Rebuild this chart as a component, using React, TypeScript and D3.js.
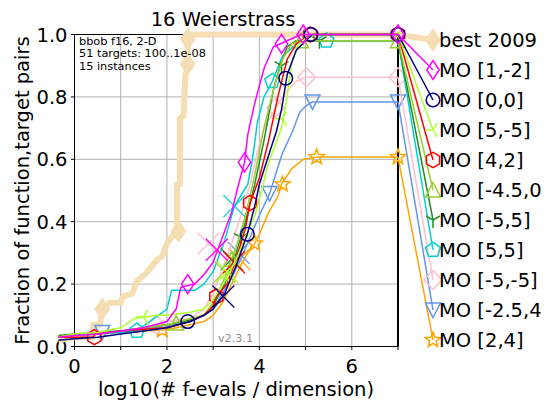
import React from "react";
import * as d3 from "d3";

type Pt = [number, number];

const WIDTH = 550;
const HEIGHT = 409;

// axis ticks
const xTickValues = [0, 1, 2, 3, 4, 5, 6, 7];
const xLabelValues = [0, 2, 4, 6];
const yTickValues = [0, 0.2, 0.4, 0.6, 0.8, 1.0];
const yTickLabels = ["0.0", "0.2", "0.4", "0.6", "0.8", "1.0"];

// algorithms (names truncated to 10 characters as in the legend)
const algNames = [
  "best 2009",
  "MO [1,-2]",
  "MO [0,0]",
  "MO [5,-5]",
  "MO [4,2]",
  "MO [-4.5,0",
  "MO [-5,5]",
  "MO [5,5]",
  "MO [-5,-5]",
  "MO [-2.5,4",
  "MO [2,4]",
];
const algColors = [
  "#f5deb3",
  "#ff00ff",
  "#000080",
  "#adff2f",
  "#ff0000",
  "#9acd32",
  "#228b22",
  "#00ced1",
  "#ffc0cb",
  "#6495ed",
  "#ffa500",
];
const algMarkers = [
  "bestDiamond",
  "thinDiamond",
  "circle",
  "triLeft",
  "hexagon",
  "triUp",
  "triDown1",
  "pentagon",
  "diamond",
  "triDown",
  "star",
];

// ECDF curves: [log10(evals/dim), fraction of (function,target) pairs]
const best2009: Pt[] = [
  [-0.35, 0.02], [0.0, 0.03], [0.4, 0.03], [0.4, 0.07], [0.55, 0.07], [0.6, 0.12],
  [0.75, 0.14], [1.0, 0.14], [1.05, 0.16], [1.25, 0.17], [1.35, 0.21], [1.55, 0.235],
  [1.8, 0.28], [1.9, 0.29], [2.0, 0.33], [2.2, 0.37], [2.22, 0.37], [2.22, 0.52],
  [2.28, 0.52], [2.28, 0.73], [2.36, 0.74], [2.4, 0.87], [2.45, 0.9], [2.45, 0.985],
  [2.45, 1.0], [7.0, 1.0],
];
const mo1m2: Pt[] = [
  [-0.35, 0.03], [0, 0.035], [0.5, 0.04], [1, 0.05], [1.5, 0.06], [2, 0.08], [2.2, 0.12],
  [2.3, 0.19], [2.6, 0.2], [2.8, 0.23], [3.0, 0.27], [3.1, 0.31], [3.25, 0.37], [3.4, 0.43],
  [3.55, 0.52], [3.68, 0.59], [3.75, 0.68], [3.9, 0.78], [4.1, 0.89], [4.3, 0.96],
  [4.6, 0.98], [4.9, 1.0], [7, 1.0],
];
const mo00: Pt[] = [
  [-0.35, 0.02], [0, 0.025], [0.5, 0.03], [1, 0.04], [1.5, 0.05], [2, 0.06], [2.5, 0.08],
  [2.8, 0.1], [3.0, 0.12], [3.25, 0.17], [3.5, 0.26], [3.74, 0.36], [3.9, 0.45], [4.0, 0.52],
  [4.26, 0.64], [4.37, 0.69], [4.48, 0.76], [4.6, 0.87], [4.8, 0.95], [5.0, 0.98],
  [5.15, 1.0], [7, 1.0],
];
const mo5m5: Pt[] = [
  [-0.35, 0.03], [0, 0.04], [0.5, 0.045], [1, 0.06], [1.3, 0.09], [1.8, 0.1], [2, 0.1],
  [2.5, 0.11], [2.8, 0.12], [3.0, 0.15], [3.3, 0.22], [3.5, 0.28], [3.7, 0.35], [3.9, 0.42],
  [4.05, 0.5], [4.2, 0.59], [4.48, 0.7], [4.6, 0.8], [4.7, 0.91], [4.85, 0.97], [5.1, 1.0],
  [7, 1.0],
];
const mo42: Pt[] = [
  [-0.35, 0.03], [0, 0.03], [0.4, 0.03], [0.45, 0.04], [1, 0.05], [1.5, 0.055], [2, 0.06],
  [2.5, 0.08], [2.8, 0.1], [3.0, 0.13], [3.07, 0.16], [3.3, 0.2], [3.5, 0.28], [3.7, 0.38],
  [3.8, 0.46], [4.0, 0.54], [4.2, 0.66], [4.4, 0.8], [4.6, 0.92], [4.8, 0.97], [5.1, 1.0],
  [7, 1.0],
];
const mom450: Pt[] = [
  [-0.35, 0.03], [0, 0.04], [0.5, 0.045], [1, 0.05], [1.5, 0.06], [2, 0.07], [2.5, 0.09],
  [2.8, 0.1], [3.0, 0.14], [3.25, 0.22], [3.5, 0.32], [3.7, 0.42], [3.9, 0.55], [4.1, 0.7],
  [4.3, 0.82], [4.5, 0.92], [4.7, 0.97], [4.9, 0.98], [7, 0.98],
];
const mom55: Pt[] = [
  [-0.35, 0.035], [0, 0.04], [0.5, 0.045], [1, 0.05], [1.5, 0.06], [2, 0.07], [2.5, 0.085],
  [2.8, 0.1], [3.0, 0.13], [3.25, 0.2], [3.5, 0.3], [3.7, 0.4], [3.9, 0.52], [4.1, 0.66],
  [4.3, 0.82], [4.45, 0.9], [4.6, 0.96], [4.8, 0.98], [7, 0.98],
];
const mo55: Pt[] = [
  [-0.35, 0.03], [0, 0.035], [0.5, 0.04], [1, 0.045], [1.35, 0.05], [2, 0.12], [2.1, 0.18],
  [2.6, 0.18], [2.8, 0.2], [3.0, 0.24], [3.25, 0.34], [3.46, 0.45], [3.75, 0.52],
  [3.85, 0.6], [3.96, 0.72], [4.1, 0.8], [4.28, 0.85], [4.5, 0.93], [4.8, 0.97],
  [5.0, 0.98], [7, 0.98],
];
const mom5m5: Pt[] = [
  [-0.35, 0.03], [0, 0.035], [0.5, 0.04], [1, 0.045], [1.5, 0.06], [1.77, 0.07], [2, 0.08],
  [2.5, 0.09], [2.8, 0.12], [3.0, 0.17], [3.2, 0.25], [3.4, 0.33], [3.6, 0.42], [3.8, 0.52],
  [3.95, 0.62], [4.1, 0.7], [4.35, 0.765], [4.6, 0.82], [4.8, 0.85], [5.0, 0.863],
  [7, 0.863],
];
const mom254: Pt[] = [
  [-0.35, 0.03], [0, 0.035], [0.5, 0.04], [0.7, 0.05], [1, 0.05], [1.5, 0.055], [2, 0.065],
  [2.5, 0.08], [2.8, 0.1], [3.0, 0.12], [3.2, 0.17], [3.4, 0.22], [3.6, 0.28], [3.8, 0.35],
  [4.0, 0.42], [4.22, 0.49], [4.5, 0.62], [4.72, 0.69], [4.87, 0.75], [5.0, 0.77],
  [5.15, 0.784], [7, 0.784],
];
const mo24: Pt[] = [
  [-0.35, 0.03], [0, 0.035], [0.5, 0.04], [1, 0.045], [1.5, 0.05], [1.9, 0.053], [2.2, 0.06],
  [2.5, 0.07], [2.8, 0.08], [3.0, 0.1], [3.2, 0.14], [3.4, 0.2], [3.6, 0.26], [3.75, 0.3],
  [3.9, 0.33], [4.0, 0.36], [4.2, 0.43], [4.4, 0.48], [4.48, 0.52], [4.7, 0.57],
  [4.95, 0.6], [5.24, 0.607], [7, 0.607],
];

// marker positions along each curve
const best2009Marks: Pt[] = [[0.6, 0.12], [2.25, 0.37], [2.45, 0.905], [2.45, 0.985]];
const mo1m2Marks: Pt[] = [[2.45, 0.2], [3.68, 0.59], [4.48, 0.97], [4.95, 1.0], [7, 1.0]];
const mo00Marks: Pt[] = [[2.45, 0.08], [3.74, 0.36], [4.57, 0.86], [5.12, 1.0], [7, 1.0]];
const mo5m5Marks: Pt[] = [[1.5, 0.095], [3.3, 0.22], [4.5, 0.73], [7, 1.0]];
const mo42Marks: Pt[] = [[0.43, 0.03], [3.07, 0.16], [3.8, 0.46], [5.1, 1.0], [7, 1.0]];
const mom450Marks: Pt[] = [[2.2, 0.075], [3.4, 0.28], [4.9, 0.98], [7, 0.98]];
const mom55Marks: Pt[] = [[3.6, 0.35], [4.48, 0.9], [5.3, 0.98], [7, 0.98]];
const mo55Marks: Pt[] = [[1.35, 0.05], [4.28, 0.85], [5.45, 0.98]];
const mom5m5Marks: Pt[] = [[1.77, 0.07], [4.35, 0.765], [5.02, 0.863], [7, 0.863]];
const mom254Marks: Pt[] = [[0.6, 0.045], [4.22, 0.49], [5.15, 0.784], [7, 0.784]];
const mo24Marks: Pt[] = [[1.9, 0.053], [3.9, 0.33], [4.5, 0.52], [5.24, 0.607], [7, 0.607]];

// median budget crosses
const crossLog = [null, 3.08, 3.22, 3.3, 3.45, 3.25, 3.4, 3.46, 2.9, 3.55, 3.57];
const crossFrac = [null, 0.31, 0.16, 0.24, 0.27, 0.24, 0.28, 0.45, 0.33, 0.3, 0.28];

const curves = [best2009, mo1m2, mo00, mo5m5, mo42, mom450, mom55, mo55, mom5m5, mom254, mo24];
const curveMarks = [
  best2009Marks, mo1m2Marks, mo00Marks, mo5m5Marks, mo42Marks, mom450Marks,
  mom55Marks, mo55Marks, mom5m5Marks, mom254Marks, mo24Marks,
];

const infoLines = ["bbob f16, 2-D", "51 targets: 100..1e-08", "15 instances"];

const FONT = "DejaVu Sans, sans-serif";

function regular(n: number, r: number, cx: number, cy: number, inner?: number) {
  const pts: string[] = [];
  const count = inner ? n * 2 : n;
  for (let i = 0; i < count; i++) {
    const a = -Math.PI / 2 + (i * 2 * Math.PI) / count;
    const rr = inner && i % 2 === 1 ? inner : r;
    pts.push(`${cx + rr * Math.cos(a)},${cy + rr * Math.sin(a)}`);
  }
  return pts.join(" ");
}

function Marker({ kind, cx, cy, color }: { kind: string; cx: number; cy: number; color: string }) {
  const sw = 1.5;
  const common = { fill: "none", stroke: color, strokeWidth: sw };
  switch (kind) {
    case "bestDiamond":
      return <polygon points={`${cx},${cy - 11} ${cx + 7.5},${cy} ${cx},${cy + 11} ${cx - 7.5},${cy}`} fill={color} stroke={color} strokeWidth={1} />;
    case "thinDiamond":
      return <polygon points={`${cx},${cy - 9.5} ${cx + 6.2},${cy} ${cx},${cy + 9.5} ${cx - 6.2},${cy}`} {...common} />;
    case "diamond":
      return <polygon points={`${cx},${cy - 9.5} ${cx + 9},${cy} ${cx},${cy + 9.5} ${cx - 9},${cy}`} {...common} />;
    case "circle":
      return <circle cx={cx} cy={cy} r={6.8} {...common} />;
    case "hexagon":
      return <polygon points={regular(6, 7.6, cx, cy)} {...common} />;
    case "pentagon":
      return <polygon points={regular(5, 7.8, cx, cy)} {...common} />;
    case "star":
      return <polygon points={regular(5, 8, cx, cy, 3.4)} {...common} />;
    case "triUp":
      return <polygon points={`${cx},${cy - 7.5} ${cx + 7.5},${cy + 7} ${cx - 7.5},${cy + 7}`} {...common} />;
    case "triDown":
      return <polygon points={`${cx},${cy + 7.5} ${cx + 7.5},${cy - 7} ${cx - 7.5},${cy - 7}`} {...common} />;
    case "triDown1": {
      const r = 8;
      return (
        <g stroke={color} strokeWidth={sw}>
          <line x1={cx} y1={cy} x2={cx} y2={cy + r} />
          <line x1={cx} y1={cy} x2={cx - 0.87 * r} y2={cy - 0.5 * r} />
          <line x1={cx} y1={cy} x2={cx + 0.87 * r} y2={cy - 0.5 * r} />
        </g>
      );
    }
    case "triLeft": {
      const r = 8;
      return (
        <g stroke={color} strokeWidth={sw}>
          <line x1={cx} y1={cy} x2={cx - r} y2={cy} />
          <line x1={cx} y1={cy} x2={cx + 0.5 * r} y2={cy - 0.87 * r} />
          <line x1={cx} y1={cy} x2={cx + 0.5 * r} y2={cy + 0.87 * r} />
        </g>
      );
    }
    default:
      return null;
  }
}

export default function App() {
  const x = d3.scaleLinear().domain([0, 7]).range([74.5, 398]);
  const y = d3.scaleLinear().domain([0, 1]).range([346.5, 34.5]);
  const line = d3.line<Pt>().x((d) => x(d[0])).y((d) => y(d[1]));

  const legendX = 433;
  const legendY = (i: number) => 40 + i * 30;
  const x0 = x.range()[0];
  const x1 = x.range()[1];
  const yTop = y(1);
  const yBot = y(0);

  // draw order: best 2009 first, then the remaining algorithms from last to first
  const order = [0, ...d3.range(curves.length - 1, 0, -1)];

  return (
    <svg
      width={WIDTH}
      height={HEIGHT}
      style={{ position: "absolute", left: 0, top: 0, background: "#fff" }}
      fontFamily={FONT}
    >
      <rect x={0} y={0} width={WIDTH} height={HEIGHT} fill="#fff" />

      {/* grid */}
      {xTickValues.map((t) => (
        <line key={`gx${t}`} x1={x(t)} x2={x(t)} y1={yTop} y2={yBot} stroke="#b0b0b0" strokeWidth={1} />
      ))}
      {yTickValues.map((t) => (
        <line key={`gy${t}`} x1={x0} x2={x1} y1={y(t)} y2={y(t)} stroke="#b0b0b0" strokeWidth={1} />
      ))}

      {/* spines */}
      <rect x={x0} y={yTop} width={x1 - x0} height={yBot - yTop} fill="none" stroke="#000" strokeWidth={1} />

      {/* ticks */}
      {xTickValues.map((t) => (
        <line key={`tx${t}`} x1={x(t)} x2={x(t)} y1={yBot} y2={yBot + 3.5} stroke="#000" strokeWidth={1} />
      ))}
      {yTickValues.map((t) => (
        <line key={`ty${t}`} x1={x0 - 3.5} x2={x0} y1={y(t)} y2={y(t)} stroke="#000" strokeWidth={1} />
      ))}
      {xLabelValues.map((t) => (
        <text key={`lx${t}`} x={x(t)} y={372.5} fontSize={19.5} textAnchor="middle" fill="#000">
          {t}
        </text>
      ))}
      {yTickValues.map((t, i) => (
        <text key={`ly${t}`} x={x0 - 7} y={y(t) + 7} fontSize={19.5} textAnchor="end" fill="#000">
          {yTickLabels[i]}
        </text>
      ))}

      <text x={218} y={342} fontSize={11.2} fill="#8c8c8c">
        v2.3.1
      </text>

      {/* budget line */}
      <line x1={x(7)} x2={x(7)} y1={yTop} y2={yBot} stroke="#000" strokeWidth={2} />

      {/* curves */}
      {order.map((i) => {
        const pts = curves[i];
        const last = pts[pts.length - 1];
        const isBest = i === 0;
        return (
          <g key={`c${i}`}>
            <path
              d={line(pts) || ""}
              fill="none"
              stroke={algColors[i]}
              strokeWidth={isBest ? 6 : 1.5}
              strokeLinejoin="round"
            />
            <line
              x1={x(last[0])}
              y1={y(last[1])}
              x2={legendX}
              y2={legendY(i)}
              stroke={algColors[i]}
              strokeWidth={isBest ? 6 : 1.5}
            />
            {curveMarks[i].map((m, k) => (
              <Marker key={k} kind={algMarkers[i]} cx={x(m[0])} cy={y(m[1])} color={algColors[i]} />
            ))}
            {crossLog[i] !== null && (
              <g stroke={algColors[i]} strokeWidth={1.3}>
                <line
                  x1={x(crossLog[i] as number) - 11}
                  y1={y(crossFrac[i] as number) - 11}
                  x2={x(crossLog[i] as number) + 11}
                  y2={y(crossFrac[i] as number) + 11}
                />
                <line
                  x1={x(crossLog[i] as number) - 11}
                  y1={y(crossFrac[i] as number) + 11}
                  x2={x(crossLog[i] as number) + 11}
                  y2={y(crossFrac[i] as number) - 11}
                />
              </g>
            )}
            <Marker kind={algMarkers[i]} cx={legendX} cy={legendY(i)} color={algColors[i]} />
          </g>
        );
      })}

      {/* info box, drawn above the curves */}
      {infoLines.map((s, i) => (
        <text key={s} x={79} y={44.5 + i * 12.5} fontSize={11.3} fill="#000">
          {s}
        </text>
      ))}

      {/* legend labels */}
      {algNames.map((n, i) => (
        <text key={n} x={439} y={legendY(i) + 7} fontSize={19.5} fill="#000">
          {n}
        </text>
      ))}

      {/* title and axis labels */}
      <text x={223} y={26} fontSize={19.5} textAnchor="middle" fill="#000">
        16 Weierstrass
      </text>
      <text x={236} y={396} fontSize={19.5} textAnchor="middle" fill="#000">
        log10(# f-evals / dimension)
      </text>
      <text
        transform={`translate(29,${(yTop + yBot) / 2}) rotate(-90)`}
        fontSize={19.5}
        textAnchor="middle"
        fill="#000"
      >
        Fraction of function,target pairs
      </text>
    </svg>
  );
}
